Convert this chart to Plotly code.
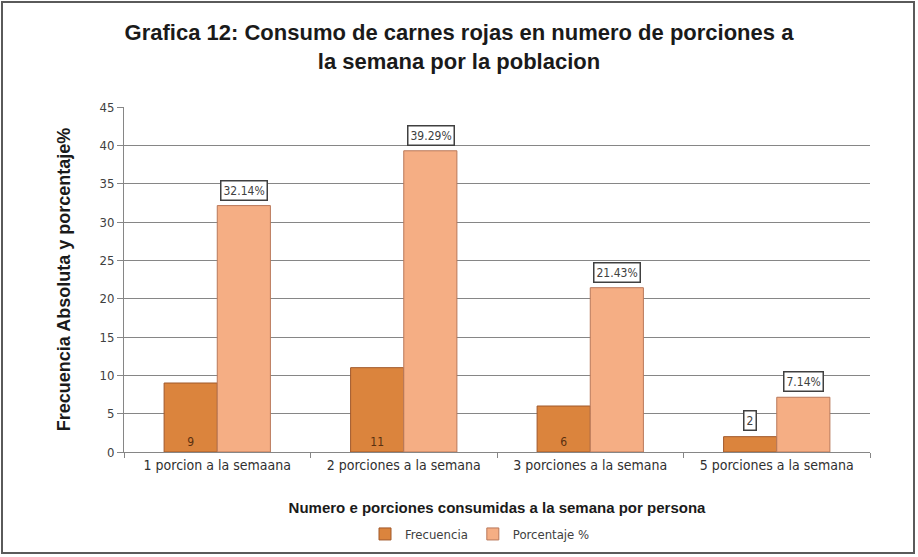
import plotly.graph_objects as go

# Datos de la gráfica
categorias = ["1 porcion a la semaana", "2 porciones a la semana",
              "3 porciones a la semana", "5 porciones a la semana"]
frecuencia = [9, 11, 6, 2]
porcentaje = [32.14, 39.29, 21.43, 7.14]
etiquetas_pct = ["32.14%", "39.29%", "21.43%", "7.14%"]
y_ticks = [0, 5, 10, 15, 20, 25, 30, 35, 40, 45]

W, H = 918, 557
L, R, T, B = 124, 48, 107, 105
plot_w = W - L - R
plot_h = H - T - B

COL_FREC = "#DB843D"
COL_PCT = "#F5AE84"
FONT_LABEL = "DejaVu Sans Condensed, Liberation Sans Narrow, sans-serif"
FONT_BOLD = "Liberation Sans, Arial, sans-serif"

fig = go.Figure()

# Frecuencia: etiqueta dentro de la barra cuando cabe
texto_frec = [str(v) if v >= 5 else "" for v in frecuencia]
fig.add_trace(go.Bar(
    name="Frecuencia", x=categorias, y=frecuencia,
    marker=dict(color=COL_FREC, line=dict(color="#A0582A", width=1)),
    text=texto_frec, textposition="inside", insidetextanchor="start",
    textfont=dict(family=FONT_LABEL, size=12, color="#5a3010"),
    cliponaxis=False,
))
fig.add_trace(go.Bar(
    name="Porcentaje %", x=categorias, y=porcentaje,
    marker=dict(color=COL_PCT, line=dict(color="#B9785A", width=1)),
))

bar_half = 27
annotations = []
# Etiquetas con recuadro sobre las barras de porcentaje
for cat, val, lab in zip(categorias, porcentaje, etiquetas_pct):
    annotations.append(dict(
        x=cat, y=val, xref="x", yref="y", text=lab, showarrow=False,
        xshift=bar_half, yshift=5, yanchor="bottom",
        font=dict(family=FONT_LABEL, size=12, color="#404040"),
        bordercolor="#404040", borderwidth=1.5, borderpad=2, bgcolor="white",
    ))
# Frecuencia pequeña: etiqueta con recuadro encima de la barra
for cat, val in zip(categorias, frecuencia):
    if val < 5:
        annotations.append(dict(
            x=cat, y=val, xref="x", yref="y", text=str(val), showarrow=False,
            xshift=-bar_half, yshift=6, yanchor="bottom",
            font=dict(family=FONT_LABEL, size=12, color="#404040"),
            bordercolor="#404040", borderwidth=1.5, borderpad=2, bgcolor="white",
        ))

# Marco exterior del gráfico
def px_x(p):
    return (p - L) / plot_w

def px_y(p):
    return (H - B - p) / plot_h

shapes = [dict(
    type="rect", xref="paper", yref="paper",
    x0=px_x(2), x1=px_x(914), y0=px_y(553), y1=px_y(2),
    line=dict(color="#5a5a5a", width=2), fillcolor="rgba(0,0,0,0)", layer="below",
)]

fig.update_layout(
    width=W, height=H,
    margin=dict(l=L, r=R, t=T, b=B, autoexpand=False),
    paper_bgcolor="white", plot_bgcolor="white",
    barmode="group", bargap=0.43, bargroupgap=0,
    title=dict(
        text="<b>Grafica 12: Consumo de carnes rojas en numero de porciones a<br>la semana por la poblacion</b>",
        x=0.5, xref="container", xanchor="center", y=1 - 40 / H, yanchor="middle",
        font=dict(family=FONT_BOLD, size=22, color="#1a1a1a"),
    ),
    xaxis=dict(
        automargin=False,
        tickson="boundaries", ticks="outside", ticklen=5, tickcolor="#868686",
        showline=True, linecolor="#868686", linewidth=1,
        tickfont=dict(family=FONT_LABEL, size=14, color="#303030"),
        title=dict(text="<b>Numero e porciones consumidas a la semana por persona</b>",
                   font=dict(family=FONT_BOLD, size=15, color="#1a1a1a"), standoff=30),
        showgrid=False,
    ),
    yaxis=dict(
        automargin=False,
        range=[0, 45], tickvals=y_ticks, ticks="outside", ticklen=6,
        tickcolor="#868686", showline=True, linecolor="#868686", linewidth=1,
        gridcolor="#868686", gridwidth=1, zeroline=False,
        tickfont=dict(family=FONT_LABEL, size=13, color="#404040"),
        title=dict(text="<b>Frecuencia Absoluta y porcentaje%</b>",
                   font=dict(family=FONT_BOLD, size=18, color="#1a1a1a"), standoff=24),
    ),
    legend=dict(
        orientation="h", x=px_x(480), xanchor="center", y=px_y(534), yanchor="middle",
        font=dict(family=FONT_LABEL, size=13, color="#404040"),
        itemwidth=30, tracegroupgap=0,
    ),
    annotations=annotations,
    shapes=shapes,
)

fig.write_html("out.html")
